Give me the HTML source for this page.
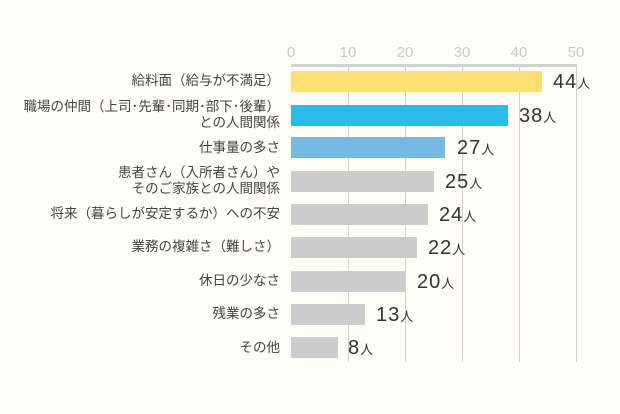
<!DOCTYPE html>
<html><head><meta charset="utf-8"><style>
html,body{margin:0;padding:0;}
body{width:620px;height:414px;background:#fefdf6;position:relative;overflow:hidden;font-family:"Liberation Sans","Noto Sans CJK JP",sans-serif;}
.t{position:absolute;top:44px;font-size:15px;color:#c8c8c8;width:30px;margin-left:-15px;text-align:center;}
.g{position:absolute;top:65px;width:1px;height:297px;background:#d0d0d0;}
.ax{position:absolute;left:291px;top:64px;width:286px;height:3px;background:#d0d0d0;}
.b{position:absolute;left:291px;height:21px;}
.l{position:absolute;right:340px;font-size:13.5px;color:#444;text-align:right;line-height:16px;white-space:nowrap;}
.v{position:absolute;font-size:20px;color:#333;line-height:21px;letter-spacing:1px;}
.v span{font-size:13px;letter-spacing:0;}
</style></head><body>
<div class="t" style="left:291px">0</div>
<div class="t" style="left:348px">10</div>
<div class="t" style="left:405px">20</div>
<div class="t" style="left:462px">30</div>
<div class="t" style="left:519px">40</div>
<div class="t" style="left:576px">50</div>
<div class="g" style="left:348px"></div>
<div class="g" style="left:405px"></div>
<div class="g" style="left:462px"></div>
<div class="g" style="left:519px"></div>
<div class="g" style="left:576px"></div>
<div class="ax"></div>

<div class="b" style="top:71px;width:251px;background:#fddf73"></div>
<div class="b" style="top:105px;width:217px;background:#2bbbeb"></div>
<div class="b" style="top:137px;width:154px;background:#74b9e1"></div>
<div class="b" style="top:171px;width:143px;background:#cccccc"></div>
<div class="b" style="top:204px;width:137px;background:#cccccc"></div>
<div class="b" style="top:237px;width:126px;background:#cccccc"></div>
<div class="b" style="top:271px;width:114px;background:#cccccc"></div>
<div class="b" style="top:304px;width:74px;background:#cccccc"></div>
<div class="b" style="top:337px;width:47px;background:#cccccc"></div>

<div class="l" style="top:73px">給料面（給与が不満足）</div>
<div class="l" style="top:99px">職場の仲間（上司･先輩･同期･部下･後輩）<br>との人間関係</div>
<div class="l" style="top:140px">仕事量の多さ</div>
<div class="l" style="top:165px">患者さん（入所者さん）や<br>そのご家族との人間関係</div>
<div class="l" style="top:206px">将来（暮らしが安定するか）への不安</div>
<div class="l" style="top:239px">業務の複雑さ（難しさ）</div>
<div class="l" style="top:273px">休日の少なさ</div>
<div class="l" style="top:306px">残業の多さ</div>
<div class="l" style="top:340px">その他</div>

<div class="v" style="left:553px;top:72px">44<span>人</span></div>
<div class="v" style="left:519px;top:106px">38<span>人</span></div>
<div class="v" style="left:457px;top:138px">27<span>人</span></div>
<div class="v" style="left:445px;top:172px">25<span>人</span></div>
<div class="v" style="left:439px;top:205px">24<span>人</span></div>
<div class="v" style="left:428px;top:238px">22<span>人</span></div>
<div class="v" style="left:417px;top:272px">20<span>人</span></div>
<div class="v" style="left:376px;top:305px">13<span>人</span></div>
<div class="v" style="left:348px;top:338px">8<span>人</span></div>
</body></html>
